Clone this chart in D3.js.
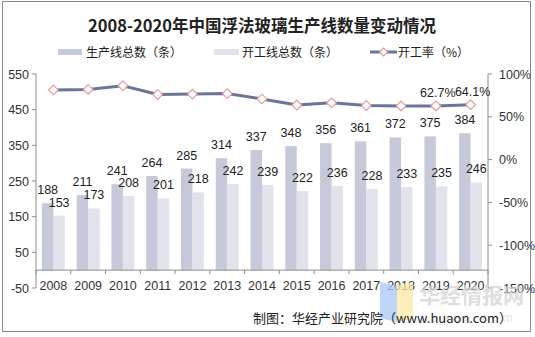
<!DOCTYPE html>
<html>
<head>
<meta charset="utf-8">
<script src="https://cdn.jsdelivr.net/npm/d3@7"></script>
<style>
  body { margin: 0; background: #fff; }
  svg { display: block; }
  text { font-family: "Liberation Sans", Arial, sans-serif; }
  .cjk { font-family: "Noto Sans CJK SC", sans-serif; }
</style>
</head>
<body>
<div id="chart"></div>
<script>
// data
let years = ["2008", "2009", "2010", "2011", "2012", "2013", "2014", "2015", "2016", "2017", "2018", "2019", "2020"]
let totalLines = [188, 211, 241, 264, 285, 314, 337, 348, 356, 361, 372, 375, 384]
let workingLines = [153, 173, 208, 201, 218, 242, 239, 222, 236, 228, 233, 235, 246]
let rate = [81.4, 82.0, 86.3, 76.1, 76.5, 77.1, 70.9, 63.8, 66.3, 63.2, 62.6, 62.7, 64.1]
let rateLabels = {11: "62.7%", 12: "64.1%"}

let leftTicks = [550, 450, 350, 250, 150, 50, -50]
let rightTicks = [100, 50, 0, -50, -100, -150]

let seriesNames = ["生产线总数（条）", "开工线总数（条）", "开工率（%）"]

let W = 535, H = 337
let margin = { top: 74, right: 47, bottom: 49, left: 36 }
let width = W - margin.left - margin.right   // 452
let height = H - margin.top - margin.bottom  // 214

let darkCol = "#c6c9d9", lightCol = "#e0e3eb", lineCol = "#6b7598", markCol = "#e49c9c"

var svg = d3.select("#chart").append("svg")
    .attr("width", W)
    .attr("height", H)

// frame
svg.append("rect")
    .attr("x", 2.5).attr("y", 1.5)
    .attr("width", 528).attr("height", 330)
    .attr("fill", "none")
    .attr("stroke", "#8c8c8c")
    .attr("stroke-width", 1)

// title
svg.append("text")
    .attr("class", "cjk")
    .attr("x", 262)
    .attr("y", 32)
    .attr("text-anchor", "middle")
    .style("font-size", "16.5px")
    .style("font-weight", "bold")
    .attr("fill", "#222")
    .text("2008-2020年中国浮法玻璃生产线数量变动情况")

// legend
var legend = svg.append("g").attr("transform", "translate(0,52)")
legend.append("rect").attr("x", 58).attr("y", -3).attr("width", 24).attr("height", 6).attr("fill", darkCol)
legend.append("rect").attr("x", 214).attr("y", -3).attr("width", 25).attr("height", 6).attr("fill", lightCol)
legend.append("line").attr("x1", 370).attr("x2", 397).attr("y1", 0).attr("y2", 0)
    .attr("stroke", lineCol).attr("stroke-width", 3)
legend.append("path").attr("d", d3.symbol(d3.symbolDiamond2, 40)())
    .attr("transform", "translate(383.5,0)")
    .attr("fill", "#fff").attr("stroke", markCol).attr("stroke-width", 1.2)
legend.selectAll(".lt")
    .data(seriesNames)
    .enter().append("text")
    .attr("class", "cjk")
    .attr("x", (d, i) => [86, 242, 398][i])
    .attr("y", 4.5)
    .style("font-size", "12px")
    .attr("fill", "#222")
    .text(d => d)

var g = svg.append("g")
    .attr("transform", "translate(" + margin.left + "," + margin.top + ")")

// scales
var x = d3.scaleBand().domain(years).range([0, width]).paddingInner(0.34).paddingOuter(0.17)
var step = x.step()
var xs = d3.scaleBand().domain(["a", "b"]).range([0, x.bandwidth()])
var yL = d3.scaleLinear().domain([-50, 550]).range([height, 0])
var yR = d3.scaleLinear().domain([-150, 100]).range([height, 0])

// bars
g.selectAll(".barA")
    .data(totalLines)
    .enter().append("rect")
    .attr("x", (d, i) => x(years[i]) + xs("a"))
    .attr("y", d => yL(d))
    .attr("width", xs.bandwidth())
    .attr("height", d => yL(0) - yL(d))
    .attr("fill", darkCol)

g.selectAll(".barB")
    .data(workingLines)
    .enter().append("rect")
    .attr("x", (d, i) => x(years[i]) + xs("b"))
    .attr("y", d => yL(d))
    .attr("width", xs.bandwidth())
    .attr("height", d => yL(0) - yL(d))
    .attr("fill", lightCol)

// left axis
var axisCol = "#8c8c8c"
g.append("line").attr("x1", 0).attr("x2", 0).attr("y1", 0).attr("y2", height)
    .attr("stroke", axisCol)
g.selectAll(".lt")
    .data(leftTicks)
    .enter().append("line")
    .attr("x1", -4).attr("x2", 0)
    .attr("y1", d => yL(d)).attr("y2", d => yL(d))
    .attr("stroke", axisCol)
g.selectAll(".ll")
    .data(leftTicks)
    .enter().append("text")
    .attr("x", -7)
    .attr("y", d => yL(d) + 4.5)
    .attr("text-anchor", "end")
    .style("font-size", "12.5px")
    .attr("fill", "#333")
    .text(d => d)

// right axis
g.append("line").attr("x1", width).attr("x2", width).attr("y1", 0).attr("y2", height)
    .attr("stroke", axisCol)
g.selectAll(".rt")
    .data(rightTicks)
    .enter().append("line")
    .attr("x1", width).attr("x2", width + 4)
    .attr("y1", d => yR(d)).attr("y2", d => yR(d))
    .attr("stroke", axisCol)
g.selectAll(".rl")
    .data(rightTicks)
    .enter().append("text")
    .attr("x", width + 11)
    .attr("y", d => yR(d) + 4.5)
    .style("font-size", "12.5px")
    .attr("fill", "#333")
    .text(d => d + "%")

// x axis at 0
g.append("line").attr("x1", 0).attr("x2", width).attr("y1", yL(0)).attr("y2", yL(0))
    .attr("stroke", axisCol)
g.selectAll(".xt")
    .data(d3.range(years.length + 1))
    .enter().append("line")
    .attr("x1", d => d * step).attr("x2", d => d * step)
    .attr("y1", yL(0)).attr("y2", yL(0) + 4)
    .attr("stroke", axisCol)
g.selectAll(".xl")
    .data(years)
    .enter().append("text")
    .attr("x", d => x(d) + x.bandwidth() / 2)
    .attr("y", height + 2)
    .attr("text-anchor", "middle")
    .style("font-size", "12.5px")
    .attr("fill", "#333")
    .text(d => d)

// bar labels
g.selectAll(".la")
    .data(totalLines)
    .enter().append("text")
    .attr("x", (d, i) => x(years[i]) + xs("a") + xs.bandwidth() / 2)
    .attr("y", d => yL(d) - 9)
    .attr("text-anchor", "middle")
    .style("font-size", "12.5px")
    .attr("fill", "#222")
    .text(d => d)
g.selectAll(".lb")
    .data(workingLines)
    .enter().append("text")
    .attr("x", (d, i) => x(years[i]) + xs("b") + xs.bandwidth() / 2)
    .attr("y", d => yL(d) - 9)
    .attr("text-anchor", "middle")
    .style("font-size", "12.5px")
    .attr("fill", "#222")
    .text(d => d)

// rate line
var line = d3.line()
    .x((d, i) => x(years[i]) + x.bandwidth() / 2)
    .y(d => yR(d))
g.append("path")
    .datum(rate)
    .attr("d", line)
    .attr("fill", "none")
    .attr("stroke", lineCol)
    .attr("stroke-width", 3)
g.selectAll(".mk")
    .data(rate)
    .enter().append("path")
    .attr("d", d3.symbol(d3.symbolDiamond2, 60)())
    .attr("transform", (d, i) => "translate(" + (x(years[i]) + x.bandwidth() / 2) + "," + yR(d) + ")")
    .attr("fill", "#fff")
    .attr("stroke", markCol)
    .attr("stroke-width", 1.2)
g.selectAll(".rlab")
    .data(Object.keys(rateLabels))
    .enter().append("text")
    .attr("x", i => x(years[i]) + x.bandwidth() / 2 + 2)
    .attr("y", i => yR(rate[i]) - 9)
    .attr("text-anchor", "middle")
    .style("font-size", "12.5px")
    .attr("fill", "#222")
    .text(i => rateLabels[i])

// watermark
var wm = svg.append("g").attr("opacity", 0.75)
wm.append("path").attr("d", "M380,282 L397,286 L397,322 L380,318 Z").attr("fill", "#a8c8f8")
wm.append("path").attr("d", "M397,286 L413,282 L413,318 L397,322 Z").attr("fill", "#fdeaa6")
wm.append("text").attr("class", "cjk")
    .attr("x", 419).attr("y", 303)
    .style("font-size", "21px").style("font-weight", "bold")
    .attr("fill", "#d4d4d4")
    .text("华经情报网")
wm.append("text")
    .attr("x", 421).attr("y", 322)
    .style("font-size", "12px").style("letter-spacing", "4px")
    .attr("fill", "#dcdcdc")
    .text("huaon.com")

// source
svg.append("text")
    .attr("class", "cjk")
    .attr("x", 512)
    .attr("y", 323)
    .attr("text-anchor", "end")
    .style("font-size", "13px")
    .attr("fill", "#222")
    .text("制图：华经产业研究院（www.huaon.com）")
</script>
</body>
</html>
